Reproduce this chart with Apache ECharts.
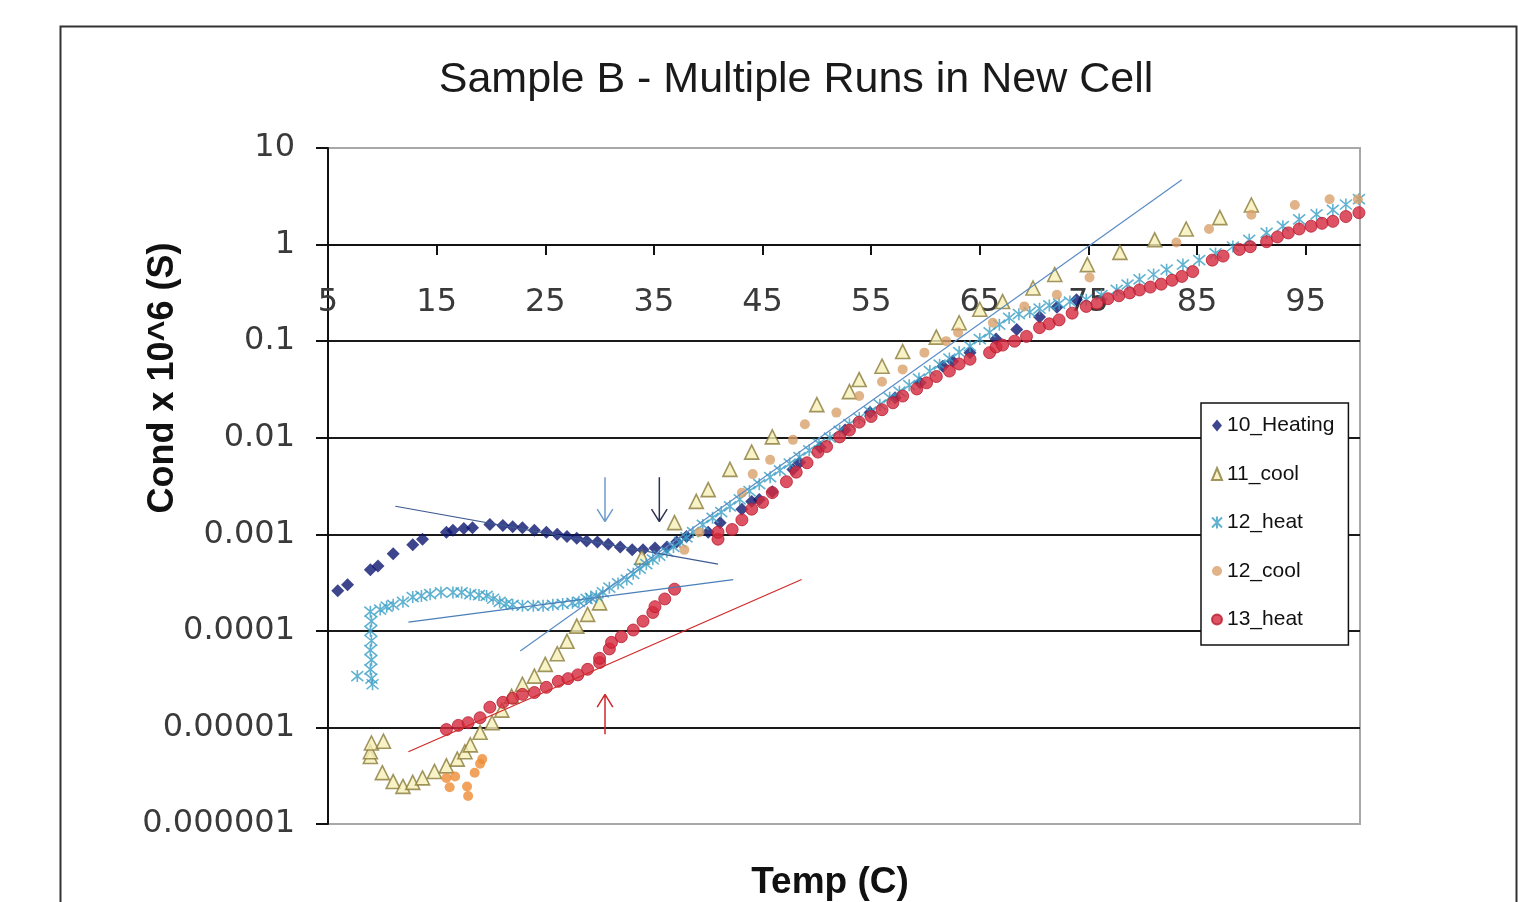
<!DOCTYPE html>
<html>
<head>
<meta charset="utf-8">
<title>Sample B - Multiple Runs in New Cell</title>
<script src="https://cdn.jsdelivr.net/npm/echarts@6/dist/echarts.min.js"></script>
<style>
  html, body { margin: 0; padding: 0; background: #fff; }
  #chart { width: 1518px; height: 902px; }
</style>
</head>
<body>
<div id="chart"></div>
<script>
// readings: [temp (C), cond x 10^6 (S)]
var heating10 = [
  [5.9,2.6e-4],[6.8,3.0e-4],[8.9,4.3e-4],[9.6,4.7e-4],[11.0,6.3e-4],[12.8,7.8e-4],[13.7,8.9e-4],
  [15.9,1.05e-3],[16.5,1.10e-3],[17.5,1.15e-3],[18.3,1.17e-3],[19.9,1.26e-3],[21.1,1.23e-3],[22.0,1.20e-3],
  [22.9,1.17e-3],[24.0,1.10e-3],[25.1,1.05e-3],[26.1,1.0e-3],[27.0,9.5e-4],[27.9,9.1e-4],[28.8,8.5e-4],
  [29.8,8.3e-4],[30.8,7.9e-4],[31.9,7.4e-4],[33.0,6.9e-4],[34.0,6.9e-4],[35.1,7.2e-4],[36.2,7.4e-4],
  [37.1,8.3e-4],[38.0,9.5e-4],[40.0,1.05e-3],[41.1,1.32e-3],[43.1,1.82e-3],[44.0,2.19e-3],[44.7,2.29e-3],
  [45.9,2.75e-3],[47.8,4.7e-3],[48.4,5.5e-3],[50.3,7.9e-3],[52.6,1.2e-2],[54.9,1.82e-2],[57.2,2.6e-2],
  [59.5,3.7e-2],[61.6,5.5e-2],[62.5,6.2e-2],[64.1,7.6e-2],[66.5,0.105],[68.4,0.132],[70.5,0.178],
  [72.1,0.224],[73.9,0.269]
];

var cool11 = [
  [8.9,5.0e-6],[8.9,5.6e-6],[9.0,6.9e-6],[10.1,7.2e-6],[10.0,3.4e-6],[11.0,2.75e-6],[11.9,2.45e-6],
  [12.8,2.7e-6],[13.7,3.0e-6],[14.8,3.5e-6],[15.9,4.0e-6],[16.9,4.7e-6],[17.6,5.6e-6],[18.1,6.6e-6],
  [19.0,8.9e-6],[20.1,1.12e-5],[21.0,1.51e-5],[21.9,2.1e-5],[22.9,2.8e-5],[24.0,3.4e-5],[25.0,4.5e-5],
  [26.1,5.8e-5],[27.0,7.8e-5],[27.9,1.12e-4],[28.9,1.48e-4],[30.0,1.95e-4],[33.9,5.8e-4],[36.9,1.32e-3],
  [38.9,2.19e-3],[40.0,2.9e-3],[42.0,4.7e-3],[44.0,7.1e-3],[45.9,1.02e-2],[50.0,2.2e-2],[53.0,3.0e-2],
  [53.9,4.0e-2],[56.0,5.5e-2],[57.9,7.8e-2],[61.0,0.11],[63.1,0.155],[65.0,0.214],[67.1,0.257],
  [69.9,0.355],[71.9,0.49],[74.9,0.62],[77.9,0.83],[81.1,1.12],[84.0,1.45],[87.1,1.9],[90.0,2.57]
];

var heat12 = [
  [7.7,3.4e-5],[8.9,1.58e-4],[9.0,1.26e-4],[8.9,1.0e-4],[9.0,7.9e-5],[8.9,6.3e-5],[9.0,5.0e-5],
  [8.9,4.0e-5],[9.0,3.2e-5],[9.1,2.8e-5],
  [9.8,1.66e-4],[10.4,1.78e-4],[11.0,1.86e-4],[11.9,2.0e-4],[12.8,2.24e-4],[13.6,2.3e-4],[14.4,2.4e-4],
  [15.4,2.5e-4],[16.5,2.5e-4],[17.3,2.5e-4],[18.1,2.4e-4],[18.9,2.35e-4],[19.6,2.3e-4],[20.2,2.15e-4],
  [20.8,2.0e-4],[21.4,1.9e-4],[22.0,1.86e-4],[22.9,1.82e-4],[23.9,1.82e-4],[24.8,1.82e-4],[25.7,1.86e-4],
  [26.6,1.9e-4],[27.5,1.95e-4],[28.1,2.0e-4],[28.8,2.14e-4],[29.2,2.2e-4],[29.7,2.3e-4],[30.3,2.5e-4],
  [30.9,2.8e-4],[31.7,3.1e-4],[32.5,3.4e-4],[33.1,3.9e-4],[33.7,4.4e-4],[34.3,4.9e-4],[34.9,5.5e-4],
  [35.5,6.0e-4],[36.2,6.6e-4],[36.8,7.4e-4],[37.4,8.3e-4],[38.0,9.3e-4],[38.6,1.05e-3],[39.5,1.25e-3],
  [40.4,1.48e-3],[41.2,1.7e-3],[42.0,1.95e-3],[42.9,2.3e-3],[43.8,2.8e-3],[44.7,3.3e-3],[45.7,3.9e-3],
  [46.6,4.6e-3],[47.5,5.4e-3],[48.4,6.3e-3],[49.3,7.4e-3],[50.2,8.7e-3],[51.2,1.0e-2],[52.1,1.18e-2],
  [53.0,1.38e-2],[53.9,1.6e-2],[54.9,1.86e-2],[55.8,2.2e-2],[56.7,2.6e-2],[57.6,3.0e-2],[58.5,3.5e-2],
  [59.4,4.1e-2],[60.4,4.9e-2],[61.3,5.7e-2],[62.2,6.6e-2],[63.1,7.7e-2],[64.1,8.9e-2],[65.0,0.105],
  [65.9,0.123],[66.8,0.148],[67.7,0.174],[68.6,0.19],[69.6,0.2],[70.5,0.217],[71.4,0.234],[72.3,0.245],
  [73.3,0.257],[74.8,0.269],[76.2,0.30],[77.6,0.339],[78.6,0.385],[79.7,0.437],[81.0,0.49],[82.2,0.55],
  [83.7,0.62],[85.2,0.69],[86.7,0.81],[88.3,0.955],[89.8,1.12],[91.4,1.32],[92.9,1.55],[94.4,1.82],
  [96.0,2.05],[97.5,2.29],[98.7,2.6],[99.9,2.95]
];

var cool12 = [
  [15.9,3.0e-6],[16.2,2.4e-6],[16.7,3.1e-6],[17.8,2.45e-6],[17.9,1.95e-6],[18.5,3.4e-6],[19.0,4.2e-6],
  [19.2,4.7e-6],
  [37.8,6.9e-4],[39.2,1.05e-3],[43.1,2.7e-3],[44.1,4.2e-3],[45.7,5.9e-3],[47.8,9.5e-3],[48.9,1.38e-2],
  [51.8,1.82e-2],[53.9,2.7e-2],[56.0,3.8e-2],[57.9,5.1e-2],[59.9,7.6e-2],[61.9,0.1],[63.0,0.123],
  [66.2,0.155],[69.1,0.229],[72.1,0.302],[75.1,0.457],[83.1,1.05],[86.1,1.45],[90.0,2.04],[94.0,2.57],
  [97.2,2.95],[99.8,2.95]
];

var heat13 = [
  [15.9,9.5e-6],[17.0,1.05e-5],[17.9,1.12e-5],[19.0,1.26e-5],[19.9,1.62e-5],[21.1,1.82e-5],[22.0,2.0e-5],
  [22.9,2.2e-5],[24.0,2.3e-5],[25.1,2.6e-5],[26.2,3.0e-5],[27.1,3.2e-5],[28.0,3.5e-5],[28.9,4.0e-5],
  [30.0,4.7e-5],[30.0,5.2e-5],[30.9,6.5e-5],[31.1,7.6e-5],[32.0,8.7e-5],[33.1,1.02e-4],[34.0,1.26e-4],
  [34.9,1.55e-4],[35.1,1.78e-4],[36.0,2.14e-4],[36.9,2.7e-4],
  [40.9,8.9e-4],[40.9,1.05e-3],[42.2,1.12e-3],[43.1,1.41e-3],[44.0,1.82e-3],[45.0,2.14e-3],[45.9,2.7e-3],
  [47.2,3.5e-3],[48.1,4.4e-3],[49.1,5.5e-3],[50.1,7.1e-3],[50.9,8.1e-3],[52.1,1.02e-2],[53.0,1.2e-2],
  [53.9,1.45e-2],[55.0,1.66e-2],[56.0,1.95e-2],[57.0,2.3e-2],[57.9,2.7e-2],[59.2,3.2e-2],[60.1,3.7e-2],
  [61.0,4.3e-2],[62.2,4.9e-2],[63.1,5.8e-2],[64.1,6.5e-2],[65.9,7.6e-2],[66.5,8.7e-2],[67.1,9.1e-2],
  [68.2,0.1],[69.3,0.112],[70.5,0.138],[71.4,0.151],[72.3,0.166],[73.5,0.195],[74.8,0.229],[75.8,0.245],
  [76.8,0.275],[77.8,0.295],[78.8,0.316],[79.7,0.339],[80.7,0.363],[81.7,0.389],[82.7,0.427],[83.6,0.468],
  [84.6,0.525],[86.4,0.69],[87.4,0.76],[88.9,0.89],[89.9,0.95],[91.4,1.07],[92.4,1.2],[93.4,1.32],
  [94.4,1.45],[95.5,1.55],[96.5,1.66],[97.5,1.74],[98.7,1.95],[99.9,2.14]
];

// hand drawn fit lines on the original
var trendHeating10 = [[11.2,1.95e-3],[40.9,4.9e-4]];
var trendHeat12Low = [[12.4,1.23e-4],[42.3,3.4e-4]];
var trendHeat12High = [[22.7,6.2e-5],[83.6,4.7]];
var trendHeat13 = [[12.4,5.6e-6],[48.6,3.4e-4]];

// arrows: x, tail, tip, where the head ends, colour
var arrows = [
  {x: 30.5, from: 3.9e-3, to: 1.35e-3, head: 1.82e-3, color: '#6d9bd0'},
  {x: 35.5, from: 3.9e-3, to: 1.35e-3, head: 1.82e-3, color: '#2c3352'},
  {x: 30.5, from: 8.5e-6, to: 2.2e-5, head: 1.62e-5, color: '#d0282c'}
];

var yTickLabels = ['0.000001','0.00001','0.0001','0.001','0.01','0.1','1','10'];
var seriesNames = ['10_Heating','11_cool','12_heat','12_cool','13_heat'];

var GRID_LEFT = 328, GRID_RIGHT = 158, GRID_TOP = 148, GRID_BOTTOM = 78;
var numFont = 'DejaVu Sans';
var txtFont = 'Liberation Sans';

var scatter = function(name, data, symbol, size, itemStyle){
  return {
    name: name, type: 'scatter', data: data,
    symbol: symbol, symbolSize: size,
    itemStyle: itemStyle,
    xAxisIndex: 0, yAxisIndex: 0,
    silent: true
  };
};

var thinLine = function(data, color, width){
  return {
    type: 'line', data: data, showSymbol: false, symbol: 'none',
    lineStyle: {color: color, width: width || 1.2},
    xAxisIndex: 0, yAxisIndex: 0, silent: true, z: 5
  };
};

// low orange cluster is a brighter orange in the original
var cool12Items = cool12.map(function(p){
  if (p[0] < 25) {
    return {value: p, itemStyle: {color: '#ee8c34'}};
  }
  return p;
});

var series = [
  scatter('10_Heating', heating10, 'diamond', 13, {color: '#0d1670'}),
  scatter('11_cool', cool11, 'triangle', 14, {color: '#f6f0b8', borderColor: '#8a7b3a', borderWidth: 1.6}),
  scatter('12_heat', heat12, 'path://M0,0L10,10M10,0L0,10M5,-1L5,11', 12,
    {color: 'rgba(0,0,0,0)', borderColor: '#3a9fc6', borderWidth: 1.6}),
  scatter('12_cool', cool12Items, 'circle', 10, {color: '#d8a06a'}),
  scatter('13_heat', heat13, 'circle', 12, {color: '#d6283c', borderColor: '#b81c30', borderWidth: 1}),
  thinLine(trendHeating10, '#3d5a92'),
  thinLine(trendHeat12Low, '#4a7fb8'),
  thinLine(trendHeat12High, '#5a8cc6'),
  thinLine(trendHeat13, '#d02828')
];

arrows.forEach(function(a){
  var half = 0.72;
  series.push(thinLine([[a.x, a.from],[a.x, a.to],[a.x - half, a.head],[a.x, a.to],[a.x + half, a.head]], a.color, 1.5));
});

var option = {
  animation: false,
  backgroundColor: '#fff',
  title: {
    text: 'Sample B - Multiple Runs in New Cell',
    left: 791, textAlign: 'center', top: 54,
    textStyle: {fontFamily: txtFont, fontSize: 43, fontWeight: 'normal', color: '#1a1a1a'}
  },
  legend: {
    data: seriesNames,
    orient: 'vertical',
    left: 1201, top: 403,
    padding: [12, 14, 15, 10],
    itemGap: 27.5, itemWidth: 10, itemHeight: 12,
    backgroundColor: '#fff',
    borderColor: '#111', borderWidth: 1.5,
    textStyle: {fontFamily: txtFont, fontSize: 21, color: '#111', lineHeight: 20}
  },
  grid: [
    {left: GRID_LEFT, right: GRID_RIGHT, top: GRID_TOP, bottom: GRID_BOTTOM,
     show: true, borderColor: '#a8a8a8', borderWidth: 2, backgroundColor: 'transparent'},
    {left: GRID_LEFT, right: GRID_RIGHT, top: GRID_TOP, height: 97}
  ],
  xAxis: [
    {gridIndex: 0, type: 'value', min: 5, max: 100, show: false},
    {gridIndex: 1, type: 'value', min: 5, max: 100, interval: 10,
     axisLine: {onZero: false, lineStyle: {color: '#111', width: 2}},
     axisTick: {length: 10, lineStyle: {color: '#111', width: 2}},
     axisLabel: {showMaxLabel: false, margin: 42, fontFamily: numFont, fontSize: 32, color: '#3a3a3a'},
     splitLine: {show: false}}
  ],
  yAxis: [
    {gridIndex: 0, type: 'log', logBase: 10, min: 1e-6, max: 10, splitNumber: 7,
     axisLine: {show: true, onZero: false, lineStyle: {color: '#111', width: 2}},
     axisTick: {show: true, length: 12, lineStyle: {color: '#111', width: 2}},
     axisLabel: {margin: 33, fontFamily: numFont, fontSize: 32, color: '#3a3a3a',
       formatter: function(v){
         var e = Math.round(Math.log(v) / Math.LN10);
         return yTickLabels[e + 6] || '';
       }},
     splitLine: {show: true, showMinLine: false, showMaxLine: false, lineStyle: {color: '#1a1a1a', width: 2}},
     minorTick: {show: false}},
    {gridIndex: 1, type: 'value', show: false}
  ],
  graphic: [
    {type: 'rect', left: 58, top: 24, z: -10, silent: true,
     shape: {width: 1456, height: 900},
     style: {fill: 'none', stroke: '#333', lineWidth: 2}},
    {type: 'text', x: 163, y: 378, rotation: Math.PI / 2, silent: true,
     style: {text: 'Cond x 10^6 (S)', fontFamily: txtFont, fontSize: 36, fontWeight: 'bold',
       fill: '#111', align: 'center', verticalAlign: 'middle'}},
    {type: 'text', x: 830, y: 883, silent: true,
     style: {text: 'Temp (C)', fontFamily: txtFont, fontSize: 37, fontWeight: 'bold',
       fill: '#111', align: 'center', verticalAlign: 'middle'}}
  ],
  series: series
};

var chart = echarts.init(document.getElementById('chart'), null, {renderer: 'canvas'});
chart.setOption(option);
</script>
</body>
</html>
